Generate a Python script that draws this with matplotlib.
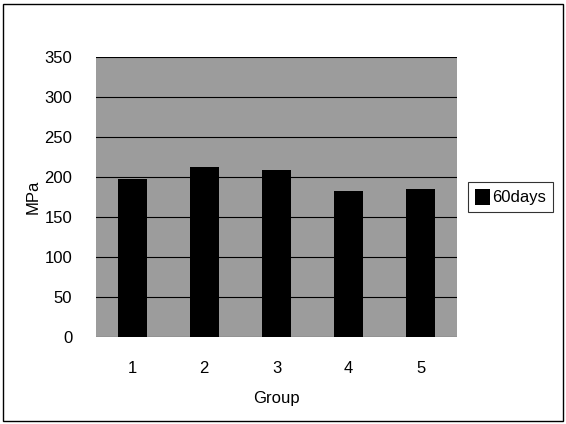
import numpy as np
import matplotlib.pyplot as plt

# ==========================================
# DATA
# ==========================================

groups = ["1", "2", "3", "4", "5"]
mpa_60days = [197, 212, 209, 182, 185]
y_ticks = [0, 50, 100, 150, 200, 250, 300, 350]

plt.rcParams["font.family"] = ["Liberation Sans", "DejaVu Sans"]

fig = plt.figure(figsize=(5.66, 4.24), dpi=100)
fig.patch.set_facecolor("white")

# outer chart frame
fig.add_artist(plt.Rectangle((0.006, 0.006), 0.988, 0.985, transform=fig.transFigure,
                             fill=False, edgecolor="black", linewidth=1.0))

ax = fig.add_axes([96 / 566, 1 - 337 / 424, 361 / 566, 280 / 424])
ax.set_facecolor("#9c9c9c")

x = np.arange(len(groups))
ax.set_axisbelow(True)
ax.yaxis.grid(True, color="black", linewidth=0.8)
ax.bar(x, mpa_60days, width=0.4, color="black", label="60days", zorder=3)

ax.set_xlim(-0.5, len(groups) - 0.5)
ax.set_ylim(0, 350)
ax.set_yticks(y_ticks)
ax.set_xticks(x)
ax.set_xticklabels(groups)
ax.tick_params(axis="both", length=0, labelsize=12)
ax.tick_params(axis="x", pad=17)
ax.tick_params(axis="y", pad=17)

for s in ax.spines.values():
    s.set_visible(False)

ax.set_xlabel("Group", fontsize=12, labelpad=11)
ax.set_ylabel("MPa", fontsize=12, labelpad=3)

leg = fig.legend(loc="center left", bbox_to_anchor=(468 / 566, 1 - 197 / 424),
                 fontsize=12, frameon=True, fancybox=False, handlelength=0.9,
                 handleheight=1.1, handletextpad=0.15, borderpad=0.4,
                 borderaxespad=0)
leg.get_frame().set_edgecolor("black")
leg.get_frame().set_linewidth(0.8)

plt.savefig("out.png", dpi=100)
